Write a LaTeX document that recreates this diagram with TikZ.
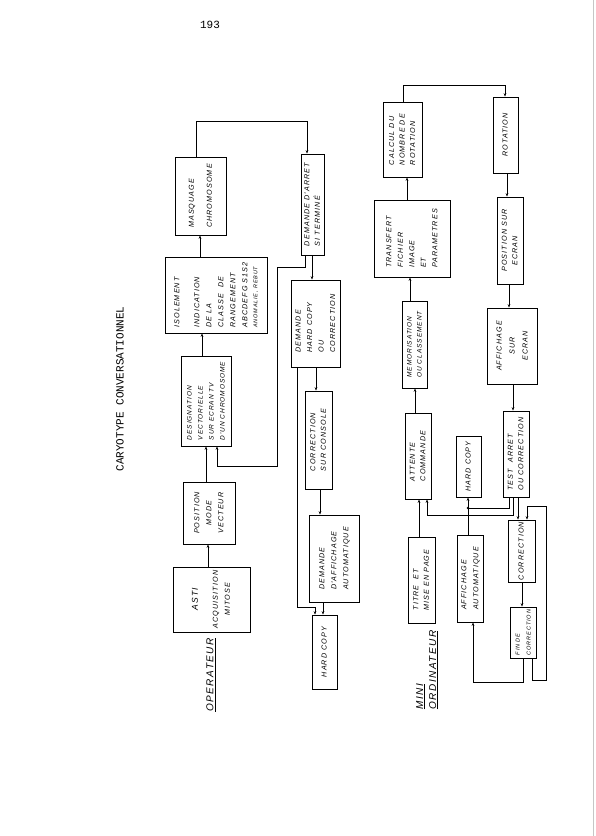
\documentclass[tikz,border=0pt]{standalone}
\usepackage{fontspec}
\usepackage{graphicx}
\setmainfont{Liberation Sans}
\newfontfamily\handfont[LetterSpace=15]{Liberation Sans}
\newfontfamily\typefont{Liberation Mono}
\usetikzlibrary{arrows.meta}

% rotated block of lines, read from bottom to top
\newcommand{\vlines}[2][l]{\rotatebox{90}{\begin{tabular}{@{}#1@{}}#2\end{tabular}}}

\tikzset{
  box/.style={draw, line width=0.8pt, inner sep=0pt, font=\handfont\itshape\fontsize{7.2}{10.5}\selectfont},
  wide/.style={font=\handfont\itshape\fontsize{7.2}{12}\selectfont},
  arr/.style={line width=0.65pt, -{Stealth[length=3.5pt,width=2.6pt]}},
  wire/.style={line width=0.65pt},
  lbl/.style={font=\handfont\itshape\fontsize{10}{13}\selectfont, inner sep=0pt},
}

\begin{document}
\begin{tikzpicture}[x=1pt, y=-1pt]
    \useasboundingbox (0,0) rectangle (595,836);
    \fill[white] (0,0) rectangle (595,836);
    \draw[gray!45, line width=0.5pt] (593,0) -- (593,836);
    % Page number and title
    \node[font=\typefont\fontsize{11}{13}\selectfont] (pnum) at (210,25) {193};
    \node[font=\typefont\fontsize{11}{13}\selectfont, rotate=90] (title) at (120,389) {CARYOTYPE CONVERSATIONNEL};
    % Operateur
    \node[box, wide, minimum width=77pt, minimum height=65pt] (asti) at (211.5,599.5) {\vlines[c]{\fontsize{8.5}{12}\selectfont ASTI\\[8pt] ACQUISITION\\ MITOSE}};
    \node[box, wide, minimum width=52pt, minimum height=62pt] (posmode) at (209,513) {\vlines[c]{POSITION\\ MODE\\ VECTEUR}};
    \node[box, minimum width=50pt, minimum height=90pt, font=\handfont\itshape\fontsize{6.5}{11}\selectfont] (design) at (206,401) {\vlines{DESIGNATION\\ VECTORIELLE\\ SUR ECRAN TV\\ D'UN CHROMOSOME}};
    \node[box, wide, minimum width=102pt, minimum height=76pt] (isol) at (216,295) {\vlines{ISOLEMENT\\[8pt] INDICATION\\ DE LA\\ CLASSE\ \ DE\\ RANGEMENT\\ ABCDEFG S1S2\\[-2pt] {\handfont\itshape\fontsize{5.5}{7}\selectfont ANOMALIE, REBUT}}};
    \node[box, wide, minimum width=51pt, minimum height=78pt] (masq) at (200.5,196) {\vlines{MASQUAGE\\[6pt] CHROMOSOME}};
    \node[box, minimum width=23pt, minimum height=101pt] (arret) at (312.5,204.5) {\vlines{DEMANDE D'ARRET\\ SI TERMIN\'E}};
    \node[box, minimum width=49pt, minimum height=87pt, font=\handfont\itshape\fontsize{7.2}{11.5}\selectfont] (demhc) at (315.5,323.5) {\vlines{DEMANDE\\ HARD COPY\\ OU\\ CORRECTION}};
    \node[box, minimum width=27pt, minimum height=98pt] (corcons) at (318.5,440) {\vlines{CORRECTION\\ SUR CONSOLE}};
    \node[box, wide, minimum width=50pt, minimum height=87pt] (demaff) at (334,558.5) {\vlines{DEMANDE\\ D'AFFICHAGE\\ AUTOMATIQUE}};
    \node[box, minimum width=25pt, minimum height=74pt] (hcop) at (324.5,652) {\vlines{HARD COPY}};
    \node[lbl, rotate=90] (oper) at (211,675) {\underline{OPERATEUR}};
    % Mini ordinateur
    \node[box, minimum width=76pt, minimum height=77pt, font=\handfont\itshape\fontsize{7.2}{11.5}\selectfont] (transf) at (412,238.5) {\vlines{TRANSFERT\\ FICHIER\\ IMAGE\\ ET\\ PARAMETRES}};
    \node[box, minimum width=39pt, minimum height=75pt] (calcul) at (402.5,139.5) {\vlines{CALCUL DU\\ NOMBRE DE\\ ROTATION}};
    \node[box, minimum width=25pt, minimum height=76pt] (rot) at (505.5,135) {\vlines{ROTATION}};
    \node[box, minimum width=26pt, minimum height=87pt] (possur) at (510,240.5) {\vlines{POSITION SUR\\ \ \ ECRAN}};
    \node[box, minimum width=50pt, minimum height=76pt, font=\handfont\itshape\fontsize{7.2}{13}\selectfont] (affsur) at (512,346) {\vlines[c]{AFFICHAGE\\ SUR\\ ECRAN}};
    \node[box, minimum width=25pt, minimum height=87pt, font=\handfont\itshape\fontsize{6.5}{10}\selectfont] (memo) at (414.5,344.5) {\vlines{MEMORISATION\\ OU CLASSEMENT}};
    \node[box, minimum width=26pt, minimum height=86pt] (attente) at (418,456) {\vlines{ATTENTE\\ COMMANDE}};
    \node[box, minimum width=25pt, minimum height=61pt] (hcmini) at (468.5,466.5) {\vlines{HARD COPY}};
    \node[box, minimum width=26pt, minimum height=86pt] (testar) at (516,454) {\vlines{TEST\ \ ARRET\\ OU CORRECTION}};
    \node[box, minimum width=27pt, minimum height=86pt] (titre) at (421.5,580) {\vlines{TITRE\ \ ET\\ MISE EN PAGE}};
    \node[box, minimum width=26pt, minimum height=87pt, font=\handfont\itshape\fontsize{7.2}{12}\selectfont] (affauto) at (470,578.5) {\vlines{AFFICHAGE\\ AUTOMATIQUE}};
    \node[box, minimum width=27pt, minimum height=62pt] (corr) at (521.5,551) {\vlines{CORRECTION}};
    \node[box, minimum width=26pt, minimum height=51pt, font=\handfont\itshape\fontsize{5.6}{11}\selectfont] (fincor) at (523,632.5) {\vlines{FIN DE\\ CORRECTION}};
    \node[lbl] (mini) at (427,670) {\vlines{\underline{MINI}\\ \underline{ORDINATEUR}}};
    % Operateur connectors
    \draw[arr] (asti.north -| 208,0) -- (posmode.south -| 208,0);
    \draw[arr] (posmode.north -| 206,0) -- (design.south -| 206,0);
    \draw[arr] (design.north -| 202,0) -- (isol.south -| 202,0);
    \draw[arr] (isol.north -| 200,0) -- (masq.south -| 200,0);
    \draw[arr] (masq.north -| 196,0) -- (196,121) -| (arret.north -| 307,0);
    \draw[arr] (arret.south -| 305,0) |- (277,267) |- (217,466) -- (design.south -| 217,0);
    \draw[arr] (arret.south -| 312,0) -- (demhc.north -| 312,0);
    \draw[arr] (demhc.south -| 316,0) -- (corcons.north -| 316,0);
    \draw[arr] (corcons.south -| 320,0) -- (demaff.north -| 320,0);
    \draw[arr] (demaff.south -| 323,0) -- (hcop.north -| 323,0);
    \draw[arr] (demhc.south -| 297,0) |- (315,607) -- (hcop.north -| 315,0);
    % Mini ordinateur connectors
    \draw[arr] (memo.north -| 410,0) -- (transf.south -| 410,0);
    \draw[arr] (transf.north -| 407,0) -- (calcul.south -| 407,0);
    \draw[arr] (calcul.north -| 403,0) -- (403,85) -| (rot.north -| 505,0);
    \draw[arr] (rot.south -| 507,0) -- (possur.north -| 507,0);
    \draw[arr] (possur.south -| 509,0) -- (affsur.north -| 509,0);
    \draw[arr] (affsur.south -| 513,0) -- (testar.north -| 513,0);
    \draw[arr] (titre.north -| 419,0) -- (attente.south -| 419,0);
    \draw[arr] (attente.north -| 415,0) -- (memo.south -| 415,0);
    \draw[arr] (affauto.north -| 468,0) -- (hcmini.south -| 468,0);
    \coordinate (jn) at (468,508);
    \draw[wire] (testar.south -| 509,0) |- (jn);
    \fill (jn) circle (1.3pt);
    \draw[arr] (testar.south -| 513,0) |- (427,515) -- (attente.south -| 427,0);
    \draw[arr] (testar.south -| 518,0) -- (corr.north -| 518,0);
    \draw[arr] (corr.south -| 522,0) -- (fincor.north -| 522,0);
    \draw[arr] (fincor.south -| 523,0) |- (473,682) -- (affauto.south -| 473,0);
    \draw[arr] (fincor.south -| 532,0) |- (546,680) |- (527,506) -- (corr.north -| 527,0);
\end{tikzpicture}
\end{document}
